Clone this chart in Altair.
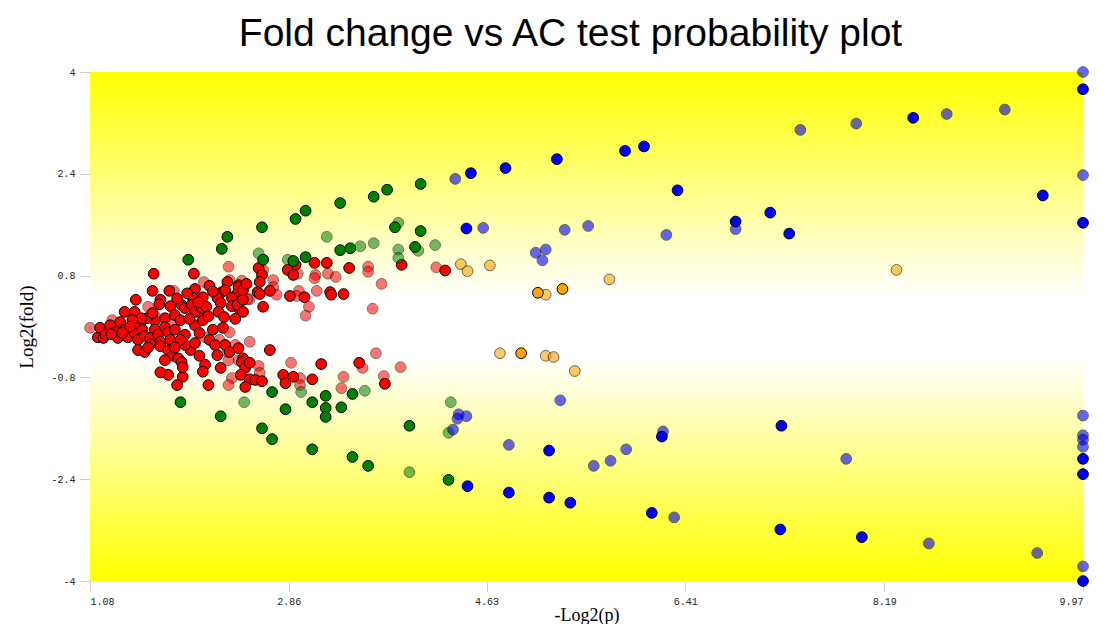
import altair as alt
import pandas as pd

x_ticks = [1.08, 2.86, 4.63, 6.41, 8.19, 9.97]
y_ticks = [-4, -2.4, -0.8, 0.8, 2.4, 4]

red_solid = [
    (1.65, 0.83), (2.01, 0.83), (2.59, 0.92), (2.62, 0.81), (2.60, 0.70), (2.58, 0.54), (2.63, 0.31),
    (2.69, 0.56), (2.60, 0.51), (2.92, 0.97), (2.85, 0.89), (2.90, 0.81), (3.09, 1.00), (3.20, 1.00),
    (3.40, 0.92), (3.87, 0.97), (2.87, 0.48), (3.00, 0.46), (3.23, 0.54), (3.24, 0.50), (3.35, 0.51),
    (4.26, 0.88),
    (1.64, 0.56), (1.79, 0.56), (2.02, 0.59), (2.15, 0.64), (2.31, 0.70), (2.41, 0.65), (2.26, 0.54),
    (2.29, 0.57), (2.41, 0.62), (2.39, 0.50), (2.39, 0.37), (2.41, 0.29), (1.49, 0.42), (1.39, 0.23),
    (1.71, 0.42), (1.70, 0.35), (1.80, 0.32), (1.84, 0.18), (1.90, 0.34), (1.93, 0.29), (2.00, 0.45),
    (1.99, 0.34), (2.02, 0.23), (2.09, 0.46), (2.08, 0.29), (2.12, 0.31), (2.22, 0.45), (2.25, 0.37),
    (2.23, 0.23), (2.28, 0.15), (2.35, 0.45), (2.35, 0.32), (2.40, 0.34), (2.45, 0.42), (2.45, 0.57),
    (2.48, 0.67), (2.45, 0.23), (1.75, 0.13), (1.89, 0.10), (1.75, -0.01), (1.66, 0.09), (1.59, 0.13),
    (1.53, 0.02), (1.66, -0.05), (1.64, 0.21), (1.48, 0.23), (1.54, 0.13),
    (1.15, -0.17), (1.20, -0.18), (1.17, -0.02), (1.22, -0.13), (1.26, 0.02), (1.30, -0.09), (1.33, -0.18),
    (1.35, 0.07), (1.39, -0.05), (1.42, -0.17), (1.46, 0.10), (1.48, -0.10), (1.51, -0.21), (1.55, -0.05),
    (1.57, -0.15), (1.62, -0.18), (1.69, -0.13), (1.71, -0.24), (1.78, -0.09), (1.80, -0.21), (1.84, -0.05),
    (1.93, -0.13), (2.02, 0.02), (2.06, -0.10), (2.09, 0.10), (2.18, -0.05), (2.27, -0.02),
    (1.51, -0.37), (1.57, -0.40), (1.62, -0.28), (1.71, -0.31), (1.78, -0.37), (1.82, -0.46), (1.87, -0.50),
    (1.75, -0.53), (1.90, -0.56), (1.98, -0.37), (1.93, -0.29), (2.06, -0.46), (2.11, -0.60), (1.78, -0.76),
    (1.71, -0.72), (1.91, -0.79), (2.09, -0.71), (2.14, -0.92), (2.25, -0.65), (1.91, -0.64), (1.89, -0.21),
    (2.02, -0.26), (2.15, -0.21), (2.20, -0.29), (2.29, -0.29), (2.33, -0.40), (2.41, -0.34), (2.45, -0.50),
    (2.44, -0.56), (2.47, -0.65), (2.43, -0.76), (2.51, -0.83), (2.47, -0.95), (2.56, -0.84), (2.62, -0.86),
    (2.51, -0.57), (2.69, -0.37), (3.15, -0.59), (2.81, -0.76), (2.83, -0.89), (2.90, -0.79), (3.07, -0.83),
    (3.49, -0.57), (3.72, -0.90), (1.86, -0.92),
    (1.95, 0.52), (2.18, 0.55), (2.05, 0.38), (1.86, 0.44), (2.14, 0.16), (1.97, 0.12), (1.44, 0.00),
    (1.27, -0.12), (1.37, -0.10), (2.38, 0.12), (1.60, -0.33), (1.84, -0.33), (2.22, -0.45),
]

red_light = [
    (2.32, 0.94), (2.63, 0.89), (2.72, 0.73), (2.72, 0.62), (2.75, 0.50), (2.51, 0.43), (2.94, 0.83),
    (3.10, 0.81), (3.09, 0.76), (3.21, 0.83), (3.28, 0.78), (3.57, 0.94), (3.57, 0.86), (3.69, 0.67),
    (2.95, 0.56), (2.93, 0.48), (3.11, 0.56), (3.04, 0.31), (3.01, 0.17), (3.61, 0.28), (4.18, 0.93),
    (1.83, 0.56), (2.10, 0.70), (2.33, 0.73), (2.44, 0.72), (2.49, 0.43), (1.60, 0.31),
    (1.08, -0.02), (1.28, 0.10), (1.33, -0.02), (1.24, -0.05), (2.33, -0.09), (1.84, 0.07), (1.66, 0.17),
    (2.06, 0.23), (1.51, 0.10),
    (2.11, -0.17), (2.24, -0.21), (2.31, -0.40), (2.38, -0.29), (2.59, -0.62), (2.60, -0.73), (2.51, -0.24),
    (2.35, -0.81), (2.32, -0.92), (2.41, -0.53), (2.32, -0.53), (2.88, -0.57), (2.96, -0.81), (2.96, -0.92),
    (3.35, -0.79), (3.33, -0.97), (3.52, -0.65), (3.64, -0.42), (3.86, -0.64), (3.71, -0.78),
]

green_solid = [
    (1.96, 1.05), (2.26, 1.22), (2.31, 1.41), (2.62, 1.56), (2.92, 1.69), (3.01, 1.82), (3.32, 1.94),
    (3.62, 2.04), (3.74, 2.15), (4.04, 2.24), (3.81, 1.56), (4.04, 1.50), (3.32, 1.20), (3.41, 1.23),
    (3.99, 1.25), (2.63, 1.05), (2.90, 1.03), (3.01, 1.09),
    (1.89, -1.19), (2.25, -1.41), (2.62, -1.60), (2.71, -1.77), (2.71, -1.03), (2.83, -1.30), (3.07, -1.19),
    (3.19, -1.09), (3.19, -1.28), (3.19, -1.42), (3.33, -1.27), (3.43, -1.06), (3.07, -1.93), (3.43, -2.05),
    (3.57, -2.19), (3.94, -1.56), (4.29, -2.41),
]

green_light = [
    (3.20, 1.41), (3.50, 1.26), (3.62, 1.31), (3.84, 1.63), (3.84, 1.21), (3.84, 1.08), (4.02, 1.19),
    (4.17, 1.28), (2.59, 1.15), (2.85, 1.05),
    (2.46, -1.19), (2.97, -1.03), (3.54, -1.01), (3.94, -2.29), (4.31, -1.19), (4.29, -1.67),
]

orange_solid = [(5.09, 0.53), (5.31, 0.59), (4.94, -0.42)]

orange_light = [
    (4.40, 0.98), (4.46, 0.87), (4.66, 0.96), (5.16, 0.50), (5.73, 0.74), (8.30, 0.89),
    (4.75, -0.42), (5.16, -0.46), (5.23, -0.48), (5.42, -0.70),
]

blue_solid = [
    (4.49, 2.41), (4.80, 2.49), (5.26, 2.63), (5.87, 2.76), (6.04, 2.83), (6.34, 2.14), (4.45, 1.54),
    (6.86, 1.65), (8.45, 3.28), (9.97, 3.73), (9.61, 2.06), (9.97, 1.63), (7.17, 1.79), (7.34, 1.46),
    (5.19, -1.95), (6.20, -1.73), (4.46, -2.51), (4.83, -2.61), (5.19, -2.69), (5.38, -2.77), (6.11, -2.93),
    (7.27, -1.56), (7.26, -3.19), (7.99, -3.31), (9.97, -2.08), (9.97, -2.32), (9.97, -4.0),
]

blue_light = [
    (4.35, 2.32), (4.60, 1.55), (5.33, 1.52), (5.54, 1.58), (6.24, 1.44), (6.86, 1.53), (5.07, 1.16),
    (5.16, 1.21), (5.13, 1.04), (7.44, 3.09), (7.94, 3.19), (8.75, 3.34), (9.27, 3.41), (9.97, 4.0),
    (9.97, 2.38),
    (5.29, -1.16), (4.38, -1.38), (4.45, -1.41), (4.37, -1.45), (4.33, -1.62), (4.83, -1.86), (5.59, -2.19),
    (5.74, -2.11), (5.88, -1.93), (6.21, -1.65), (6.31, -3.00), (7.85, -2.08), (8.59, -3.41), (9.56, -3.56),
    (9.97, -3.77), (9.97, -1.40), (9.97, -1.71), (9.97, -1.78), (9.97, -1.89),
]

groups = [
    ("red", red_light, 0.55), ("red", red_solid, 1.0),
    ("green", green_light, 0.55), ("green", green_solid, 1.0),
    ("orange", orange_light, 0.6), ("orange", orange_solid, 1.0),
    ("blue", blue_light, 0.6), ("blue", blue_solid, 1.0),
]
rows = []
for name, pts, a in groups:
    for x, y in pts:
        rows.append({"x": x, "y": y, "g": name, "a": a})
df = pd.DataFrame(rows)

W, H = 993, 509

bg = alt.Chart(alt.Data(values=[{}])).mark_rect(
    color=alt.Gradient(
        gradient="linear",
        stops=[
            alt.GradientStop(color="#ffff00", offset=0),
            alt.GradientStop(color="#ffffff", offset=0.44),
            alt.GradientStop(color="#ffffff", offset=0.56),
            alt.GradientStop(color="#ffff00", offset=1),
        ],
        x1=0, x2=0, y1=0, y2=1,
    )
).encode(x=alt.value(0), x2=alt.value(W), y=alt.value(0), y2=alt.value(H))

pts = alt.Chart(df).mark_point(
    filled=True, shape="circle", size=115, stroke="black", strokeWidth=1
).encode(
    x=alt.X("x:Q", scale=alt.Scale(domain=[1.08, 9.97], nice=False, zero=False),
            axis=alt.Axis(values=x_ticks, title="-Log2(p)", labelExpr="toString(datum.value)")),
    y=alt.Y("y:Q", scale=alt.Scale(domain=[-4, 4], nice=False, zero=False),
            axis=alt.Axis(values=y_ticks, title="Log2(fold)", labelExpr="toString(datum.value)")),
    color=alt.Color("g:N", scale=alt.Scale(domain=["red", "green", "orange", "blue"],
                                           range=["#ff0000", "#008000", "#ffa500", "#0000ff"]),
                    legend=None),
    opacity=alt.Opacity("a:Q", scale=None),
)

chart = alt.layer(bg, pts).properties(
    width=W, height=H,
    title=alt.TitleParams("Fold change vs AC test probability plot", fontSize=39,
                          font="Liberation Sans", fontWeight="normal", color="black",
                          offset=11, dx=-16, anchor="middle"),
    autosize=alt.AutoSizeParams(type="none"),
    padding={"left": 82, "top": 64, "right": 20, "bottom": 43},
).configure_view(stroke=None).configure_axis(
    grid=False, domain=False, ticks=True, tickColor="#cccccc", tickSize=10, tickWidth=1,
    labelFont="Liberation Mono", labelFontSize=10, labelColor="#222222", labelPadding=5,
    titleFont="Liberation Serif", titleFontSize=19, titleFontWeight="normal", titleColor="black",
).configure_axisX(titlePadding=0, titleFontSize=18).configure_axisY(titlePadding=14)

chart.save("out.html", embed_options={"renderer": "svg", "actions": False})
